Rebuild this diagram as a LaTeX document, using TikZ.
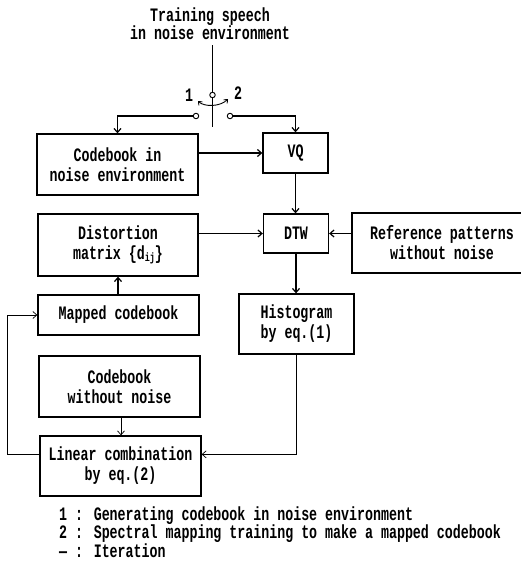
\documentclass[tikz,border=0pt]{standalone}
\usepackage{fontspec}
\setmainfont{Liberation Mono}[FakeStretch=0.70]
\usetikzlibrary{arrows.meta,calc}
\tikzset{
  box/.style={draw, line width=1.3pt, inner sep=0pt, align=center,
              font=\bfseries\fontsize{19}{20}\selectfont},
  conn/.style={line width=1.2pt, -{Straight Barb[length=4pt,width=7pt]}},
  iter/.style={line width=0.7pt, -{Straight Barb[length=4pt,width=7pt]}},
  contact/.style={circle, draw, line width=0.9pt, minimum size=5.5pt, inner sep=0pt},
  legend/.style={anchor=west, inner sep=0pt, align=left, font=\bfseries\fontsize{19}{16.5}\selectfont},
}
\begin{document}
\begin{tikzpicture}[x=1pt, y=-1pt, font=\bfseries\fontsize{19}{18}\selectfont]
\useasboundingbox (0,0) rectangle (521,565);

% title and switch
\node[align=center, inner sep=0pt] (title) at (210,24) {Training speech\\in noise environment};
\node[contact] (sw) at (212.5,95) {};
\node[contact] (c1) at (196,116) {};
\node[contact] (c2) at (230,116) {};
\coordinate (tin) at (212.5,45);
\coordinate (lev) at (212.5,127);
\draw[line width=1.2pt] (tin) -- (sw.north);
\draw[line width=1.2pt] (sw.south) -- (lev);
\coordinate (a1) at (198,101);
\coordinate (a2) at (228,99);
\draw[line width=0.9pt, {Straight Barb[length=3pt,width=5pt]}-{Straight Barb[length=3pt,width=5pt]}]
  (a1) .. controls (204,107) and (220,107) .. (a2);
\node[inner sep=0pt] (l1) at (189,95) {1};
\node[inner sep=0pt] (l2) at (238,93) {2};

% boxes
\node[box, minimum width=161pt, minimum height=61pt] (cbn) at (117.5,164.5) {Codebook in\\noise environment};
\node[box, minimum width=65pt, minimum height=40pt] (vq) at (295.5,153) {VQ};
\node[box, minimum width=160pt, minimum height=62pt] (dist) at (118,245)
  {Distortion\\matrix \{d{\fontsize{12}{12}\selectfont\raisebox{-2pt}{ij}}\}};
\node[box, minimum width=65pt, minimum height=39pt] (dtw) at (296,233.5) {DTW};
\node[box, minimum width=180pt, minimum height=60pt] (ref) at (442,243) {Reference patterns\\without noise};
\node[box, minimum width=161pt, minimum height=40pt] (map) at (118.5,315) {Mapped codebook};
\node[box, minimum width=115pt, minimum height=60pt] (hist) at (296.5,324) {Histogram\\by eq.(1)};
\node[box, minimum width=161pt, minimum height=61pt] (cbw) at (119.5,386.5) {Codebook\\without noise};
\node[box, minimum width=161pt, minimum height=60pt] (lin) at (120.5,466) {Linear combination\\by eq.(2)};

% connectors
\draw[conn] (c1.west) -| (cbn.north);
\draw[conn] (c2.east) -| (vq.north);
\draw[conn] (cbn.east |- vq.west) -- (vq.west);
\draw[conn] (vq.south) -- (vq.south |- dtw.north);
\draw[conn] (dist.east |- dtw.west) -- (dtw.west);
\draw[conn] (ref.west |- dtw.east) -- (dtw.east);
\draw[conn] (dtw.south) -- (dtw.south |- hist.north);
\draw[conn] (map.north -| dist.south) -- (dist.south);

% iteration loop
\coordinate (linR) at ($(lin.north east)!0.31!(lin.south east)$);
\coordinate (linL) at ($(lin.north west)!0.31!(lin.south west)$);
\coordinate (loopL) at (7,315);
\draw[iter] (cbw.south -| 121,0) -- (lin.north -| 121,0);
\draw[iter] (hist.south) |- (linR);
\draw[iter] (linL) -| (loopL) -- (map.west);

% legend
\node[legend] (lg) at (59,532) {1 : Generating codebook in noise environment\\
2 : Spectral mapping training to make a mapped codebook\\
— : Iteration};
\end{tikzpicture}
\end{document}
